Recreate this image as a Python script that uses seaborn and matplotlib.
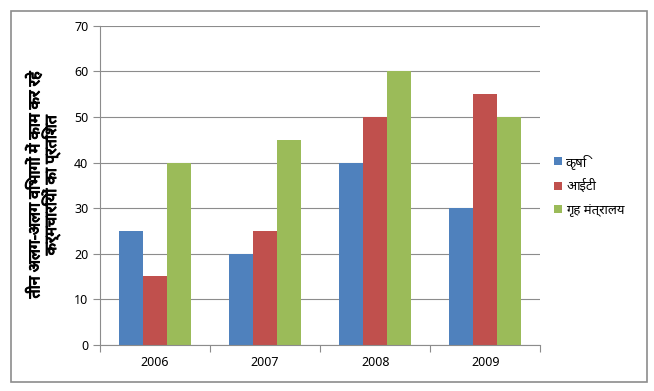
import seaborn as sns
import matplotlib.pyplot as plt
import matplotlib.patheffects as pe
import pandas as pd
from matplotlib.patches import Rectangle

years = ["2006", "2007", "2008", "2009"]
series = ["कृषि", "आईटी", "गृह मंत्रालय"]
krishi = [25, 20, 40, 30]
it = [15, 25, 50, 55]
grih = [40, 45, 60, 50]
colors = ["#4F81BD", "#C0504D", "#9BBB59"]
ylabel = "तीन अलग-अलग विभागों में काम कर रहे\nकर्मचारियों का प्रतिशत"

df = pd.DataFrame({
    "year": years * 3,
    "dept": [s for s in series for _ in years],
    "value": krishi + it + grih,
})

sns.set_style("white")
plt.rcParams["font.family"] = ["Noto Sans", "DejaVu Sans"]

fig = plt.figure(figsize=(6.54, 3.91), dpi=100)
ax = fig.add_axes([0.153, 0.118, 0.673, 0.816])
sns.barplot(data=df, x="year", y="value", hue="dept", palette=colors,
            width=0.65, ax=ax, saturation=1, linewidth=0)

ax.set_ylim(0, 70)
ax.set_yticks(range(0, 71, 10))
ax.yaxis.grid(True, color="#8c8c8c", linewidth=0.8)
ax.set_axisbelow(True)
for side in ["top", "right"]:
    ax.spines[side].set_visible(False)
ax.spines["left"].set_color("#8c8c8c")
ax.spines["bottom"].set_color("#8c8c8c")
ax.set_xlim(-0.5, 3.5)
ax.set_xticks([-0.5, 0.5, 1.5, 2.5, 3.5], minor=False)
ax.set_xticklabels([])
ax.set_xticks(range(4), minor=True)
ax.set_xticklabels(years, minor=True)
ax.tick_params(axis="x", which="major", length=5, color="#8c8c8c", direction="out", bottom=True)
ax.tick_params(axis="x", which="minor", length=0, labelsize=9, pad=8, labelcolor="black")
ax.tick_params(axis="y", length=5, color="#8c8c8c", direction="out", left=True,
               labelsize=9, labelcolor="black")
ax.set_xlabel("")
lab = ax.set_ylabel(ylabel, fontsize=11.5, fontweight="bold", linespacing=0.9, color="black")
lab.set_path_effects([pe.withStroke(linewidth=0.7, foreground="black")])
ax.yaxis.set_label_coords(-0.09, 0.5)

leg = ax.legend(loc="center left", bbox_to_anchor=(1.02, 0.5), frameon=False,
                handlelength=0.6, handleheight=0.6, handletextpad=0.3, fontsize=9.5,
                labelspacing=0.8, borderaxespad=0)
for t in leg.get_texts():
    t.set_color("black")

fig.patches.append(Rectangle((0.0168, 0.023), 0.9725, 0.949, transform=fig.transFigure,
                             fill=False, edgecolor="#8c8c8c", linewidth=1.2))

fig.savefig("out.png", dpi=100)
